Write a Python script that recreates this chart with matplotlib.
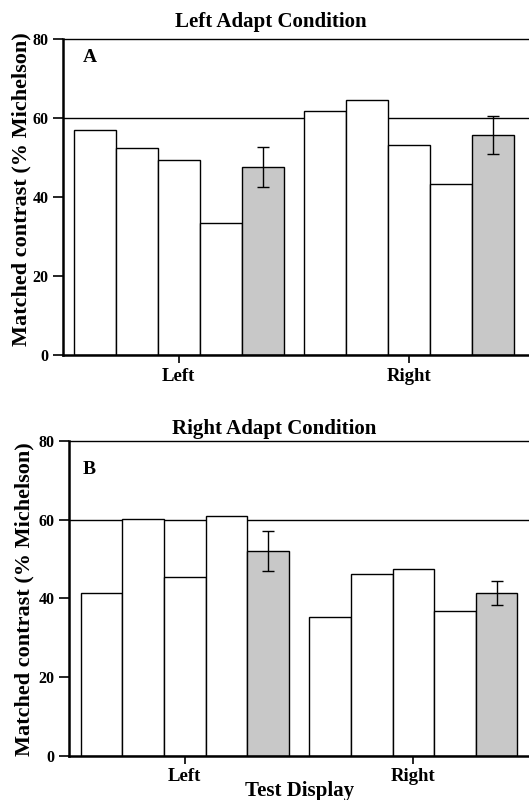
import matplotlib
matplotlib.use("Agg")
import matplotlib.pyplot as plt

plt.rcParams['font.family'] = ['Liberation Serif', 'DejaVu Serif']
plt.rcParams['font.weight'] = 'bold'

# data
test_display = ["Left", "Right"]

left_adapt_obs = [[56.9, 52.5, 49.3, 33.5], [61.7, 64.5, 53.3, 43.4]]
left_adapt_mean = [47.7, 55.7]
left_adapt_err = [5.0, 4.8]

right_adapt_obs = [[41.3, 60.1, 45.3, 60.8], [35.3, 46.1, 47.5, 36.9]]
right_adapt_mean = [52.0, 41.3]
right_adapt_err = [5.0, 3.1]

reference_level = 60

bar_w = 0.182
gray = '#c8c8c8'


def draw_panel(ax, obs, mean, err, title, title_pad, letter, letter_pos,
               ylabel_pos, xlim, show_xlabel=False):
    for g, vals in enumerate(obs):
        for i, v in enumerate(vals):
            ax.bar(g + (i - 2) * bar_w, v, width=bar_w, color='white',
                   edgecolor='black', linewidth=1.0, zorder=2)
    xs = [g + 2 * bar_w for g in range(len(mean))]
    ax.bar(xs, mean, width=bar_w, color=gray, edgecolor='black',
           linewidth=1.0, zorder=2)
    ax.errorbar(xs, mean, yerr=err, fmt='none', ecolor='black',
                elinewidth=1.0, capsize=4, capthick=1.0, zorder=3)
    ax.axhline(reference_level, color='black', linewidth=1.0, zorder=1)

    ax.set_ylim(0, 80)
    ax.set_xlim(*xlim)
    ax.set_yticks([0, 20, 40, 60, 80])
    ax.set_xticks(range(len(test_display)))
    ax.set_xticklabels(test_display, fontsize=13.5, fontweight='bold')
    ax.tick_params(axis='y', labelsize=11.5, length=7, width=1.2, direction='out')
    ax.tick_params(axis='x', length=6, width=1.2, direction='out', pad=3)
    for lab in ax.get_yticklabels():
        lab.set_fontweight('bold')

    ax.spines['right'].set_visible(False)
    ax.spines['left'].set_linewidth(1.8)
    ax.spines['bottom'].set_linewidth(1.8)
    ax.spines['top'].set_linewidth(1.0)

    ax.set_title(title, fontsize=15, fontweight='bold', x=0.446, pad=title_pad)
    ax.set_ylabel("Matched contrast (% Michelson)", fontsize=16, fontweight='bold')
    ax.yaxis.set_label_coords(*ylabel_pos)
    ax.text(letter_pos[0], letter_pos[1], letter, transform=ax.transAxes,
            fontsize=14, fontweight='bold', ha='center', va='center')
    if show_xlabel:
        ax.set_xlabel("Test Display", fontsize=15, fontweight='bold', labelpad=-3)


fig = plt.figure(figsize=(5.29, 8), dpi=100)
ax1 = fig.add_axes([0.119, 0.556, 0.881, 0.395])
ax2 = fig.add_axes([0.131, 0.0554, 0.869, 0.3934])

draw_panel(ax1, left_adapt_obs, left_adapt_mean, left_adapt_err,
           "Left Adapt Condition", 9, "A", (0.058, 0.943), (-0.068, 0.525),
           (-0.504, 1.522))
draw_panel(ax2, right_adapt_obs, right_adapt_mean, right_adapt_err,
           "Right Adapt Condition", 5, "B", (0.043, 0.908), (-0.076, 0.498),
           (-0.505, 1.506), show_xlabel=True)

fig.savefig("out.png", dpi=100)
print("Done!")
